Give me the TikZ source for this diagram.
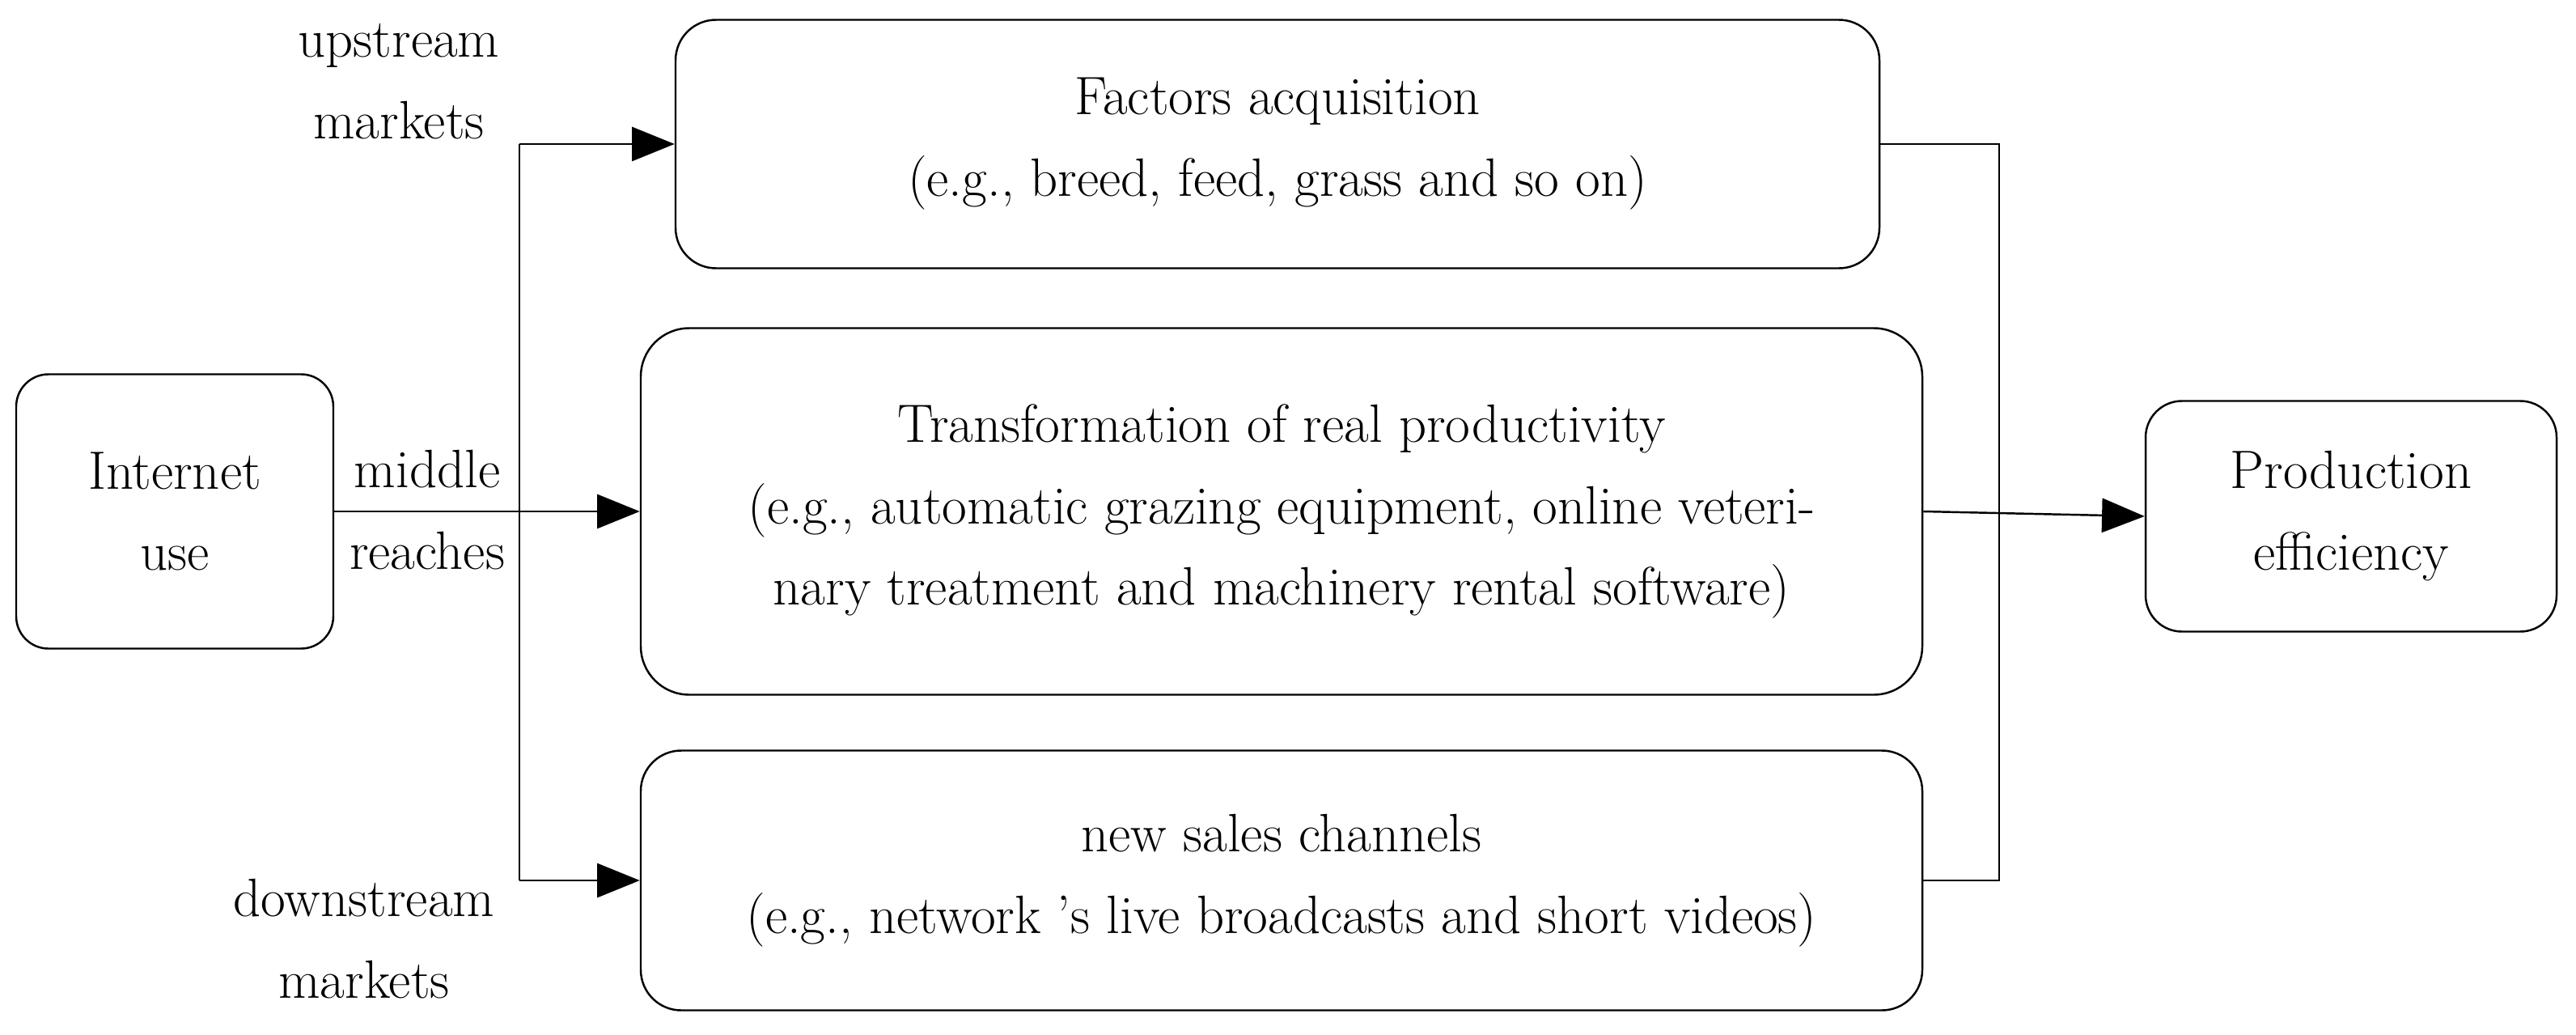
\documentclass[tikz,border=0pt]{standalone}
\usepackage{tikz}
\usetikzlibrary{positioning,arrows.meta,shapes}

\begin{document}
\begin{tikzpicture}[
  font=\fontsize{19}{28.7}\selectfont,
  box/.style={rectangle,draw,line width=0.7pt,align=center,inner sep=0pt},
  link/.style={line width=0.7pt},
  arr/.style={link,-{Triangle[length=15pt,width=12pt]}},
  lbl/.style={align=center,inner sep=0pt}]
  \useasboundingbox (0,0) rectangle (31.84,-12.79);
  % boxes
  \node[box,rounded corners=0.4cm,minimum width=3.92cm,minimum height=3.39cm] (internet) at (2.16,-6.32) {Internet\\use};
  \node[box,rounded corners=0.5cm,minimum width=14.88cm,minimum height=3.07cm] (factors) at (15.79,-1.78)
    {Factors acquisition\\(e.g., breed, feed, grass and so on)};
  \node[box,rounded corners=0.6cm,minimum width=15.84cm,minimum height=4.53cm] (trans) at (15.84,-6.32)
    {Transformation of real productivity\\(e.g., automatic grazing equipment, online veteri-\\nary treatment and machinery rental software)};
  \node[box,rounded corners=0.5cm,minimum width=15.84cm,minimum height=3.21cm] (sales) at (15.84,-10.88)
    {new sales channels\\(e.g., network 's live broadcasts and short videos)};
  \node[box,rounded corners=0.45cm,minimum width=5.08cm,minimum height=2.85cm] (prod) at (29.06,-6.38)
    {Production\\efficiency};
  % branch points
  \coordinate (split) at (6.42,-6.32);
  \coordinate (merge) at (24.71,-6.32);
  % connectors
  \draw[arr] (internet.east) -- (trans.west);
  \draw[link] (split |- factors.west) -- (split |- sales.west);
  \draw[arr] (split |- factors.west) -- (factors.west);
  \draw[arr] (split |- sales.west) -- (sales.west);
  \draw[link] (factors.east) -| (merge |- sales.east) -- (sales.east);
  \draw[arr] (trans.east) -- (prod.west);
  % labels
  \node[lbl] (up) at (4.93,-1.01) {upstream\\markets};
  \node[lbl] (mid) at (5.28,-6.30) {middle\\reaches};
  \node[lbl] (down) at (4.50,-11.60) {downstream\\markets};
\end{tikzpicture}
\end{document}
